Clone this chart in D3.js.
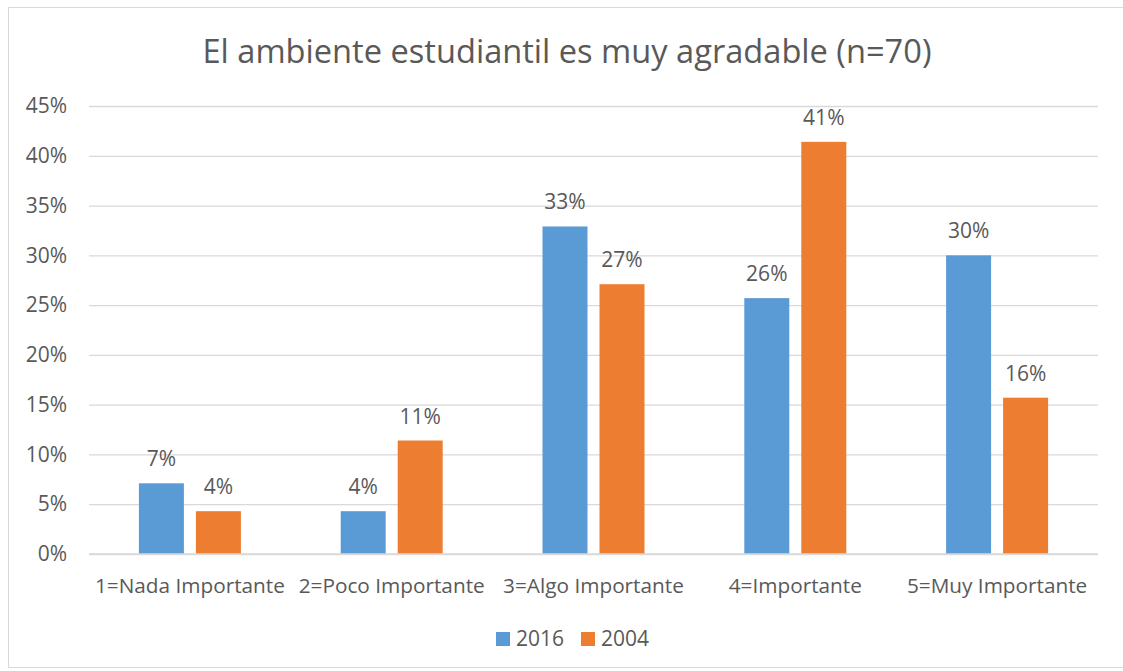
<!DOCTYPE html>
<html>
<head>
<meta charset="utf-8">
<script src="https://cdn.jsdelivr.net/npm/d3@7"></script>
<style>
  html, body { margin: 0; padding: 0; background: #fff; }
  text { font-family: "Open Sans", "Noto Sans", sans-serif; fill: #595959; }
</style>
</head>
<body>
<svg id="chart" width="1123" height="671"></svg>
<script>
const title = "El ambiente estudiantil es muy agradable (n=70)";
const categories = ["1=Nada Importante", "2=Poco Importante", "3=Algo Importante", "4=Importante", "5=Muy Importante"];
const seriesNames = ["2016", "2004"];
const values2016 = [0.071, 0.043, 0.329, 0.257, 0.300];
const values2004 = [0.043, 0.114, 0.271, 0.414, 0.157];
const yTicks = [0, 0.05, 0.10, 0.15, 0.20, 0.25, 0.30, 0.35, 0.40, 0.45];
const colors = ["#5b9bd5", "#ed7d31"];

const seriesValues = [values2016, values2004];
const svg = d3.select("#chart");

// chart border
svg.append("rect")
  .attr("x", 8.5).attr("y", 7.5).attr("width", 1120).attr("height", 660)
  .attr("fill", "#fff").attr("stroke", "#d9d9d9").attr("stroke-width", 1);

const plot = { left: 89, right: 1098, top: 106, bottom: 554 };

const x0 = d3.scaleBand().domain(categories).range([plot.left, plot.right]).padding(0);
const x1 = d3.scaleBand().domain(seriesNames).range([-51, 51]).paddingInner(12 / 57).paddingOuter(0);
const y = d3.scaleLinear().domain([0, 0.45]).range([plot.bottom, plot.top]);

// horizontal gridlines + y labels via axis
const yAxis = d3.axisLeft(y).tickValues(yTicks).tickFormat(d3.format(".0%"))
  .tickSize(-(plot.right - plot.left)).tickPadding(22);
const gy = svg.append("g").attr("transform", `translate(${plot.left},0)`).call(yAxis);
gy.select(".domain").remove();
gy.selectAll(".tick line").attr("stroke", "#d9d9d9").attr("stroke-width", 1.3);
gy.selectAll(".tick text").attr("font-size", 21).attr("fill", "#595959")
  .style("font-family", '"Open Sans", sans-serif');

// bars
const groups = svg.append("g").selectAll("g")
  .data(categories).join("g")
  .attr("transform", d => `translate(${x0(d) + x0.bandwidth() / 2},0)`);

seriesNames.forEach((s, si) => {
  groups.append("rect")
    .attr("x", x1(s))
    .attr("width", x1.bandwidth())
    .attr("y", (d, i) => y(seriesValues[si][i]))
    .attr("height", (d, i) => y(0) - y(seriesValues[si][i]))
    .attr("fill", colors[si]);
  groups.append("text")
    .attr("x", x1(s) + x1.bandwidth() / 2)
    .attr("y", (d, i) => y(seriesValues[si][i]) - 17)
    .attr("text-anchor", "middle")
    .attr("font-size", 21)
    .text((d, i) => d3.format(".0%")(seriesValues[si][i]));
});

// x-axis baseline
svg.append("line")
  .attr("x1", plot.left).attr("x2", plot.right)
  .attr("y1", y(0)).attr("y2", y(0))
  .attr("stroke", "#d9d9d9").attr("stroke-width", 1.3);

// category labels
const catLabels = svg.append("g").selectAll("text")
  .data(categories).join("text")
  .attr("x", d => x0(d) + x0.bandwidth() / 2)
  .attr("y", 593)
  .attr("text-anchor", "middle")
  .attr("font-size", 20.5)
  .text(d => d);

// fit category label widths to reference (1=Nada Importante ≈ 190px)
(function () {
  const w = catLabels.nodes()[0].getComputedTextLength();
  const ratio = 190 / w;
  if (Math.abs(ratio - 1) > 0.01) {
    catLabels.each(function () {
      const len = this.getComputedTextLength();
      d3.select(this).attr("textLength", len * ratio).attr("lengthAdjust", "spacingAndGlyphs");
    });
  }
})();

// title
const t = svg.append("text")
  .attr("x", 567).attr("y", 63)
  .attr("text-anchor", "middle")
  .attr("font-size", 32)
  .text(title);
(function () {
  const w = t.node().getComputedTextLength();
  if (Math.abs(w - 729) > 4) t.attr("textLength", 729).attr("lengthAdjust", "spacingAndGlyphs");
})();

// legend
const legend = svg.append("g");
const legendX = [496, 581];
seriesNames.forEach((s, i) => {
  legend.append("rect")
    .attr("x", legendX[i]).attr("y", 632).attr("width", 14).attr("height", 14)
    .attr("fill", colors[i]);
  legend.append("text")
    .attr("x", legendX[i] + 20).attr("y", 646)
    .attr("font-size", 21)
    .text(s);
});
</script>
</body>
</html>
